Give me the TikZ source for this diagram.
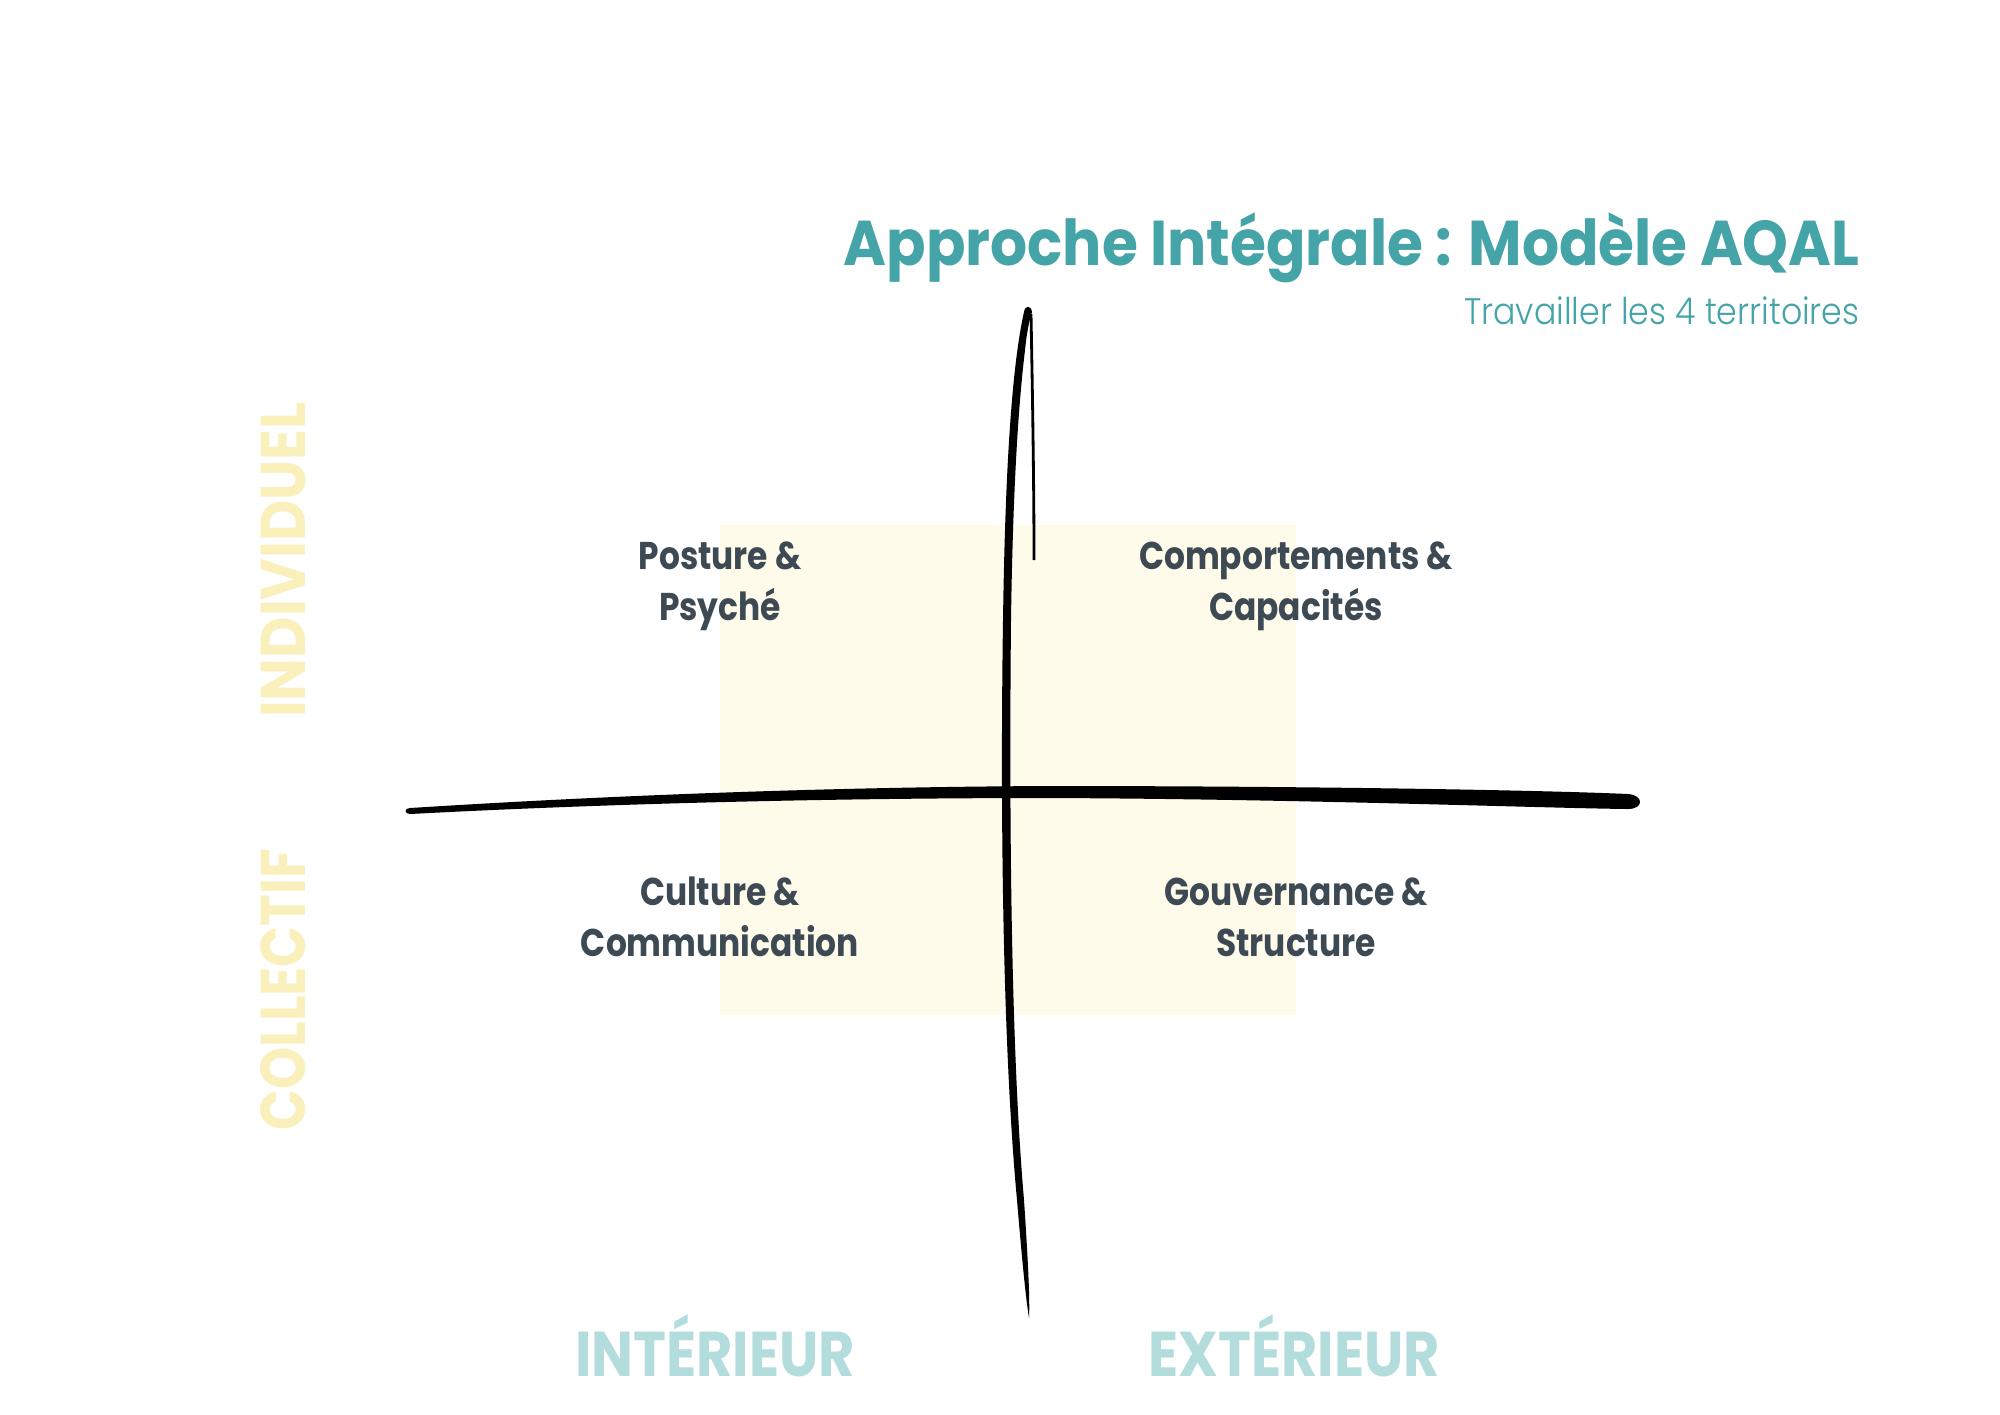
\documentclass[tikz,border=0pt]{standalone}
\usepackage{fontspec}
\setmainfont{Poppins}
\newfontfamily\lightfont{Poppins Light}[FakeStretch=0.9]
\newfontfamily\narrowfont{Poppins}[FakeStretch=0.85]
\newfontfamily\widefont{Poppins}[FakeStretch=0.9]
\newfontfamily\titlefont{Poppins}[FakeStretch=0.92]
\newfontfamily\footfont{Poppins}[FakeStretch=0.88]
\usetikzlibrary{positioning}

\definecolor{aqalteal}{HTML}{44A4A8}
\definecolor{paleteal}{HTML}{B3DCDC}
\definecolor{paleyellow}{HTML}{FAF0BC}
\definecolor{quadfill}{HTML}{FEFBEA}
\definecolor{slate}{HTML}{3E4A53}

\begin{document}
\begin{tikzpicture}[x=0.01cm, y=-0.01cm, line width = 0.8pt,
    quadrant/.style = {text=slate, align=center,
        font=\narrowfont\bfseries\fontsize{11}{14.6}\selectfont},
    sidelabel/.style = {text=paleyellow, rotate=90,
        font=\narrowfont\bfseries\fontsize{18}{18}\selectfont},
    footlabel/.style = {text=paleteal, anchor=base,
        font=\footfont\bfseries\fontsize{18}{18}\selectfont}]
    \useasboundingbox[fill=white] (0,0) rectangle (2000,1414);

    \def\xleft{720}
    \def\xright{1296}

    \fill[quadfill] (\xleft,525) rectangle (\xright,1015);

    % brush strokes
    \fill (410,808) .. controls (600,796) and (820,787) .. (1050,786)
        .. controls (1300,786) and (1540,790) .. (1628,794)
        .. controls (1644,795) and (1644,809) .. (1628,809)
        .. controls (1540,808) and (1300,799) .. (1050,798)
        .. controls (820,798) and (600,804) .. (410,814)
        .. controls (404,814) and (404,808) .. (410,808) -- cycle;
    \fill (1024,312) .. controls (1011,370) and (1005,480) .. (1003,620)
        .. controls (1000,820) and (1003,1050) .. (1017,1200)
        .. controls (1022,1260) and (1026,1300) .. (1029,1318)
        .. controls (1030,1300) and (1028,1260) .. (1024,1200)
        .. controls (1011,1050) and (1009,820) .. (1011,620)
        .. controls (1013,480) and (1019,400) .. (1025,350)
        .. controls (1027,330) and (1030,318) .. (1032,312)
        .. controls (1031,305) and (1025,305) .. (1024,312) -- cycle;
    \draw (1031,314) .. controls (1033,420) and (1034,500) .. (1034,560);

    \node[anchor=base east, inner sep=0, text=aqalteal,
        font=\titlefont\bfseries\fontsize{18}{18}\selectfont]
        (title) at (1861,265) {Approche Intégrale : Modèle AQAL};
    \node[anchor=base east, inner sep=0, text=aqalteal,
        font=\lightfont\fontsize{10.5}{10.5}\selectfont]
        (subtitle) at (1861,324) {Travailler les 4 territoires};

    \node[quadrant] (posture) at (\xleft,586) {Posture \&\\Psyché};
    \node[quadrant] (comportements) at (\xright,586) {Comportements \&\\Capacités};
    \node[quadrant] (culture) at (\xleft,917) {Culture \&\\Communication};
    \node[quadrant] (gouvernance) at (\xright,917) {Gouvernance \&\\Structure};

    \node[sidelabel, font=\widefont\bfseries\fontsize{18}{18}\selectfont]
        (individuel) at (283,560) {INDIVIDUEL};
    \node[sidelabel] (collectif) at (283,990) {COLLECTIF};
    \node[footlabel] (interieur) at (715,1376) {INTÉRIEUR};
    \node[footlabel] (exterieur) at (1294,1376) {EXTÉRIEUR};
\end{tikzpicture}
\end{document}
